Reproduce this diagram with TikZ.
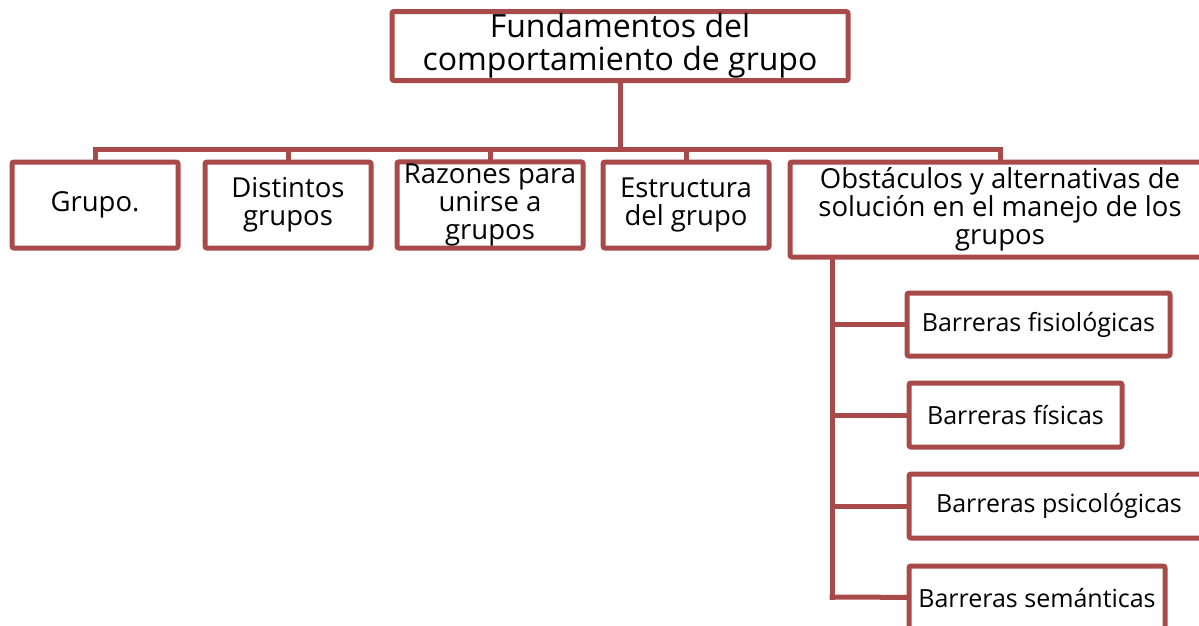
\documentclass[tikz,border=0pt]{standalone}
\usepackage{fontspec}
\setmainfont{Open Sans}
\usepackage{tikz}
\definecolor{brick}{RGB}{169,74,74}
\tikzset{%
    orgchart/.style={line width=5pt, draw=brick, line cap=rect,
        every node/.style={draw=brick, line width=5pt, rectangle, rounded corners=2pt,
            fill=white, align=center, inner sep=2pt}},
    topbox/.style={font=\fontsize{32}{33}\selectfont},
    midbox/.style={font=\fontsize{27.5}{28}\selectfont},
    leafbox/.style={font=\fontsize{25}{26}\selectfont},
}

\begin{document}
\begin{tikzpicture}[x=1pt,y=-1pt,orgchart]
	\useasboundingbox (0,0) rectangle (1199,625);

	\coordinate(busL) at (95,149);
	\coordinate(busR) at (1000,149);
	\coordinate(spine) at (832,597);

	\draw (busL) -- (busR);

	\node[topbox, minimum width=456pt, minimum height=68pt](fund) at (620,46) {Fundamentos del\\comportamiento de grupo};

	\node[midbox, minimum width=166pt, minimum height=86pt](grupo) at (95,205) {Grupo.};
	\node[midbox, minimum width=166pt, minimum height=86pt](distintos) at (288,205) {Distintos\\grupos};
	\node[midbox, minimum width=186pt, minimum height=86pt](razones) at (490,205) {Razones para\\unirse a\\grupos};
	\node[midbox, minimum width=166pt, minimum height=86pt](estructura) at (686,205) {Estructura\\del grupo};
	\node[midbox, minimum width=420pt, minimum height=95pt](obst) at (1000,209.5) {Obstáculos y alternativas de\\solución en el manejo de los\\grupos};

	\node[leafbox, minimum width=263pt, minimum height=63pt](fisio) at (1038.5,324.5) {Barreras fisiológicas};
	\node[leafbox, minimum width=213pt, minimum height=64pt](fisicas) at (1015.5,415) {Barreras físicas};
	\node[leafbox, minimum width=300pt, minimum height=64pt](psico) at (1059,506) {Barreras psicológicas};
	\node[leafbox, minimum width=256pt, minimum height=64pt](seman) at (1037,598) {Barreras semánticas};

	\draw (fund) -- (fund |- busL);
	\draw (busL) -- (grupo);
	\draw (distintos |- busL) -- (distintos);
	\draw (razones |- busL) -- (razones);
	\draw (estructura |- busL) -- (estructura);
	\draw (busR) -- (obst);

	\draw (obst.south -| spine) -- (spine);
	\draw (fisio -| spine) -- (fisio);
	\draw (fisicas -| spine) -- (fisicas);
	\draw (psico -| spine) -- (psico);
	\draw (spine) -- (seman);
\end{tikzpicture}
\end{document}
